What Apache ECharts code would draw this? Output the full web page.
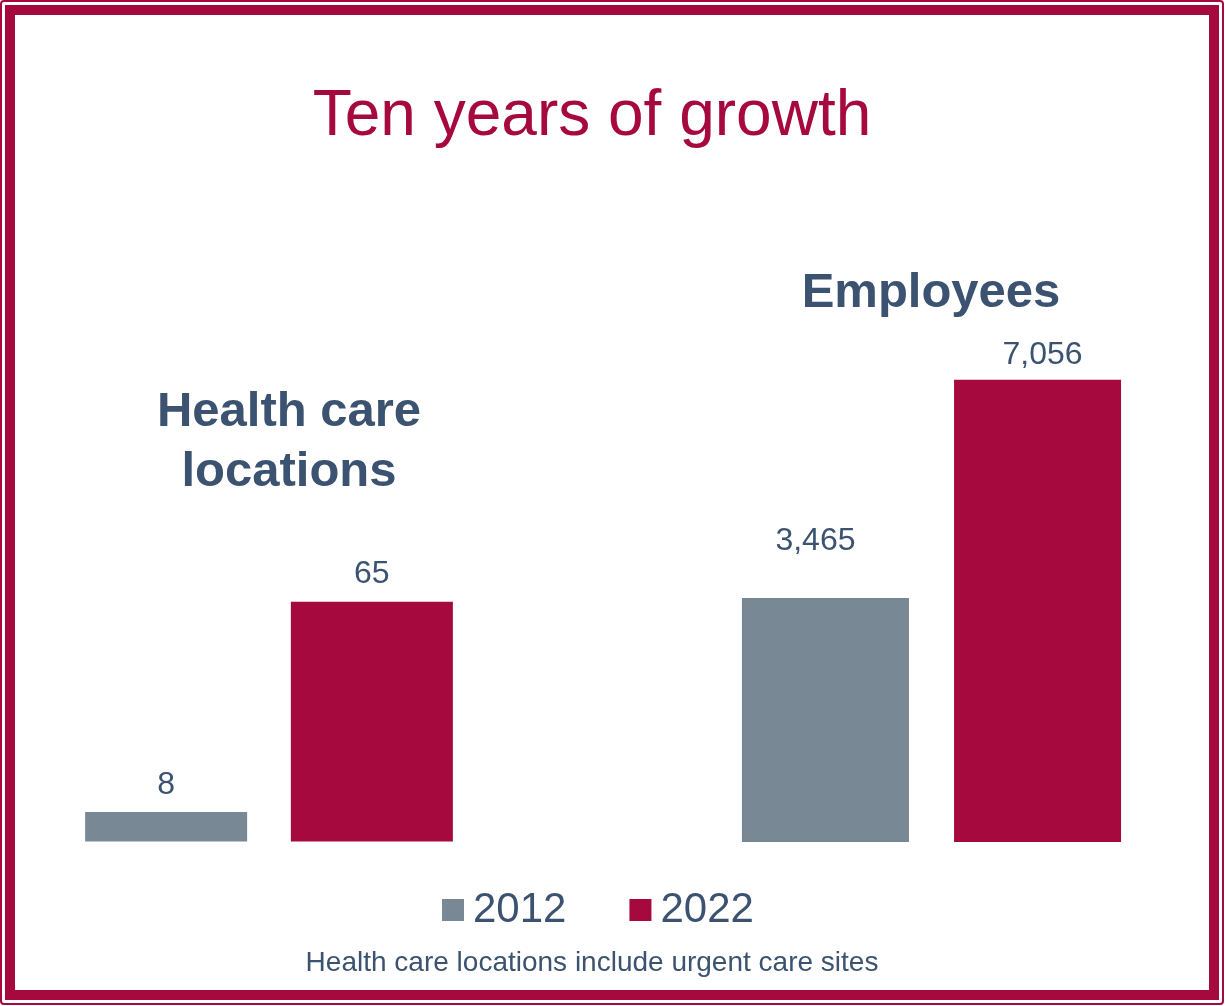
<!DOCTYPE html>
<html>
<head>
<meta charset="utf-8">
<script src="https://cdn.jsdelivr.net/npm/echarts@6/dist/echarts.min.js"></script>
<style>
html,body{margin:0;padding:0;background:#fff;}
#chart{width:1225px;height:1006px;}
</style>
</head>
<body>
<div id="chart"></div>
<script>
// ---- data ----
const chartTitle = 'Ten years of growth';
const groupNames = ['Health care\nlocations', 'Employees'];
const seriesNames = ['2012', '2022'];
const values2012 = [8, 3465];
const values2022 = [65, 7056];
const footnote = 'Health care locations include urgent care sites';

const RED = '#a6093d';
const GRAY = '#788894';
const TEXT = '#3b5370';
const FONT = '"Liberation Sans", Arial, sans-serif';

const labelDist2012 = [11, 41];
const labelDist2022 = [11, 9];

const fmt = p => Number(p.value).toLocaleString('en-US');

function item(v, d) {
  return { value: v, label: { distance: d } };
}

const baseLabel = {
  show: true, position: 'top', color: TEXT, fontSize: 32, fontFamily: FONT, formatter: fmt
};

const chart = echarts.init(document.getElementById('chart'));
chart.setOption({
  backgroundColor: '#fff',
  animation: false,
  color: [GRAY, RED],
  grid: [
    { left: 65, width: 408, top: 472.5, height: 369 },
    { left: 731, width: 401, top: 201, height: 641 }
  ],
  xAxis: [
    { type: 'category', gridIndex: 0, data: [groupNames[0]], show: false },
    { type: 'category', gridIndex: 1, data: [groupNames[1]], show: false }
  ],
  yAxis: [
    { type: 'value', gridIndex: 0, min: 0, max: 100, show: false },
    { type: 'value', gridIndex: 1, min: -554, max: 10000, startValue: -554, show: false }
  ],
  legend: {
    data: seriesNames,
    left: 442, top: 889, padding: 0,
    icon: 'rect', itemWidth: 22, itemHeight: 22, itemGap: 63,
    textStyle: { color: TEXT, fontSize: 42, fontFamily: FONT, padding: [0, 0, 0, 4] }
  },
  series: [
    { name: seriesNames[0], type: 'bar', xAxisIndex: 0, yAxisIndex: 0, barWidth: 162, barGap: '27%',
      itemStyle: { color: GRAY }, label: baseLabel,
      data: [item(values2012[0], labelDist2012[0])] },
    { name: seriesNames[1], type: 'bar', xAxisIndex: 0, yAxisIndex: 0, barWidth: 162, barGap: '27%',
      itemStyle: { color: RED }, label: baseLabel,
      data: [item(values2022[0], labelDist2022[0])] },
    { name: seriesNames[0], type: 'bar', xAxisIndex: 1, yAxisIndex: 1, barWidth: 167, barGap: '27%',
      itemStyle: { color: GRAY }, label: Object.assign({}, baseLabel, { offset: [-10, 0] }),
      data: [item(values2012[1], labelDist2012[1])] },
    { name: seriesNames[1], type: 'bar', xAxisIndex: 1, yAxisIndex: 1, barWidth: 167, barGap: '27%',
      itemStyle: { color: RED }, label: Object.assign({}, baseLabel, { offset: [5, 0] }),
      data: [item(values2022[1], labelDist2022[1])] }
  ],
  graphic: [
    { type: 'rect', shape: { x: 1, y: 1, width: 1222, height: 1003, r: 3 },
      style: { fill: 'none', stroke: RED, lineWidth: 2 }, silent: true },
    { type: 'rect', shape: { x: 10, y: 10, width: 1204, height: 985 },
      style: { fill: 'none', stroke: RED, lineWidth: 10 }, silent: true },
    { type: 'text', x: 592, y: 117,
      style: { text: chartTitle, fill: RED, font: '64px ' + FONT, align: 'center', verticalAlign: 'middle' } },
    { type: 'text', x: 931, y: 293,
      style: { text: groupNames[1], fill: TEXT, font: 'bold 49px ' + FONT, align: 'center', verticalAlign: 'middle' } },
    { type: 'text', x: 289, y: 442,
      style: { text: groupNames[0], fill: TEXT, font: 'bold 49px ' + FONT, lineHeight: 60, align: 'center', verticalAlign: 'middle' } },
    { type: 'text', x: 592, y: 963,
      style: { text: footnote, fill: TEXT, font: '28px ' + FONT, align: 'center', verticalAlign: 'middle' } }
  ]
});
</script>
</body>
</html>
